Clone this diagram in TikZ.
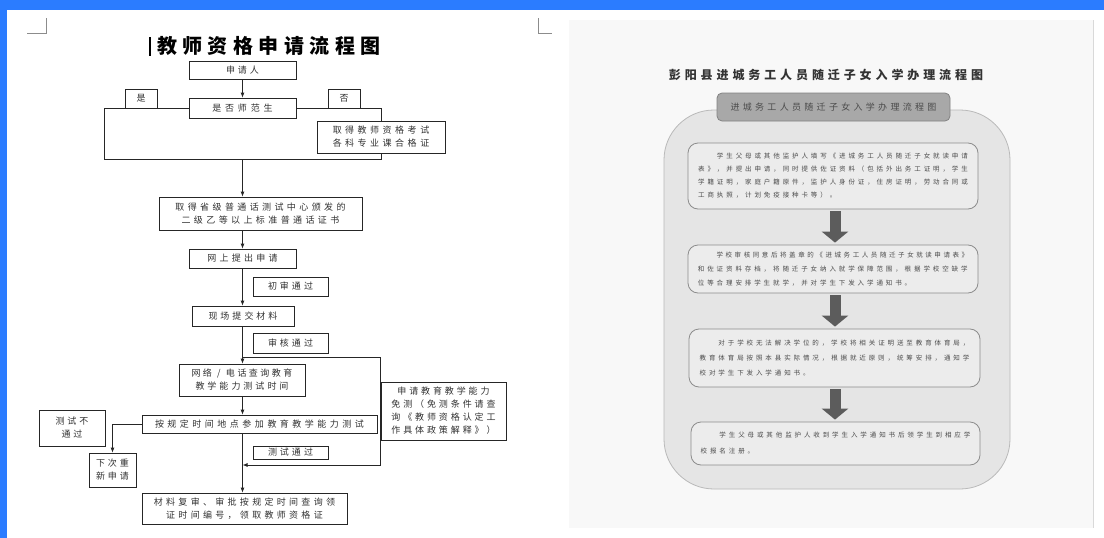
\documentclass[tikz,border=0pt]{standalone}
\usepackage{fontspec}
\setmainfont{Noto Sans CJK SC}
\usetikzlibrary{arrows.meta}
\definecolor{bluef}{RGB}{43,124,255}
\definecolor{scan}{RGB}{248,248,248}
\definecolor{cont}{RGB}{229,229,229}
\definecolor{contb}{RGB}{185,185,185}
\definecolor{rbfill}{RGB}{236,236,236}
\definecolor{rbdraw}{RGB}{140,140,140}
\definecolor{tabf}{RGB}{168,168,168}
\definecolor{tabd}{RGB}{130,130,130}
\definecolor{rtext}{RGB}{75,75,75}
\definecolor{arrg}{RGB}{92,92,92}
\definecolor{ltext}{RGB}{50,50,50}
\makeatletter
\def\chs@end{\chs@end}
\newcommand\chs[2]{\leavevmode\def\chs@w{#1pt}\chs@loop#2\chs@end}
\def\chs@loop#1{\ifx#1\chs@end\else\hbox to \chs@w{\hss#1\hss}\expandafter\chs@loop\fi}
\makeatother
\tikzset{
  lbox/.style 2 args={draw=black!85, line width=0.8pt, fill=white, inner sep=0pt,
    minimum width=#1, minimum height=#2, align=center, text=ltext,
    font=\fontsize{9}{13}\selectfont},
  arr/.style={draw=black!85, line width=0.8pt, -{Latex[length=5pt,width=4pt]}},
  rbox/.style 2 args={draw=rbdraw, line width=0.8pt, fill=rbfill, rounded corners=10pt,
    inner sep=0pt, minimum width=#1, minimum height=#2, align=left, text=rtext},
  bigarr/.style={draw=arrg, line width=11pt, -{Triangle[width=26pt,length=11pt]},
    shorten >=2pt, shorten <=2pt},
}
\begin{document}
\begin{tikzpicture}[x=1pt,y=-1pt]
\useasboundingbox (0,0) rectangle (1104,538);
\fill[white] (0,0) rectangle (1104,538);
\fill[bluef] (0,0) rectangle (1104,10);
\fill[bluef] (0,0) rectangle (7,538);
% corner marks
\draw[black!45, line width=0.6pt] (27,33) -- (46,33) -- (46,18);
\draw[black!45, line width=0.6pt] (538,18) -- (538,33) -- (552,33);
% ---------------- left flowchart
\draw[black, line width=1.2pt] (150,37) -- (150,56);
\node[font=\fontsize{20}{20}\selectfont\bfseries, inner sep=0pt] (ttl) at (269,46) {\chs{25.5}{教师资格申请流程图}};
\node[lbox={277}{51}] (br) at (242.5,133.5) {};
\node[lbox={107}{18}] (shen) at (242.5,70) {\chs{12}{申请人}};
\node[lbox={107}{20}] (shifou) at (242.5,108) {\chs{12.8}{是否师范生}};
\node[lbox={32}{19}] (shi) at (141,98.5) {是};
\node[lbox={32}{19}] (fou) at (344,98.5) {否};
\node[lbox={128}{32}] (kaoshi) at (381,137) {\chs{12.5}{取得教师资格考试}\\\chs{12.5}{各科专业课合格证}};
\node[lbox={203}{33}] (pth) at (260.5,213.5) {\chs{12.4}{取得省级普通话测试中心颁发的}\\\chs{12.4}{二级乙等以上标准普通话证书}};
\node[lbox={107}{19}] (wsq) at (242.5,258.5) {\chs{12.3}{网上提出申请}};
\node[lbox={75}{19}] (csh) at (290.5,286.5) {\chs{12}{初审通过}};
\node[lbox={102}{20}] (xc) at (243,316) {\chs{12}{现场提交材料}};
\node[lbox={75}{20}] (shh) at (290.5,343) {\chs{12}{审核通过}};
\node[lbox={126}{32}] (wl) at (242,380) {\chs{11.5}{网络/电话查询教育}\\\chs{12}{教学能力测试时间}};
\node[lbox={235}{18}] (ag) at (259.5,424) {\chs{12.5}{按规定时间地点参加教育教学能力测试}};
\node[lbox={125}{58}] (mc) at (443.5,411) {\chs{11.9}{申请教育教学能力}\\\chs{11.9}{免测（免测条件请查}\\\chs{11.9}{询《教师资格认定工}\\\chs{11.9}{作具体政策解释》）}};
\node[lbox={66}{36}] (btg) at (72,428) {\chs{12}{测试不}\\\chs{12}{通过}};
\node[lbox={47}{34}] (xcs) at (112.5,470) {\chs{12}{下次重}\\\chs{12}{新申请}};
\node[lbox={75}{13}] (cstg) at (290.5,452.5) {\chs{12}{测试通过}};
\node[lbox={205}{31}] (cl) at (244.5,508.5) {\chs{12.3}{材料复审、审批按规定时间查询领}\\\chs{12.3}{证时间编号，领取教师资格证}};
\coordinate (lt) at (242.5,357);
\coordinate (lb) at (242.5,465);
\draw[arr] (shen) -- (shifou);
\draw[arr] (br.south) -- (br.south |- pth.north);
\draw[arr] (br.south |- pth.south) -- (wsq.north);
\draw[arr] (wsq.south) -- (wsq.south |- xc.north);
\draw[arr] (wsq.south |- xc.south) -- (wsq.south |- wl.north);
\draw[arr] (wsq.south |- wl.south) -- (wsq.south |- ag.north);
\draw[arr] (wsq.south |- ag.south) -- (wsq.south |- cl.north);
\draw[arr] (lt) -- (lt -| mc.west) -- (lb -| mc.west) -- (lb);
\draw[arr] (ag.west) -| (xcs.north);
% ---------------- right scanned page
\fill[scan] (569,20) rectangle (1093,528);
\draw[black!15, line width=0.8pt] (1093,20) -- (1093,528);
\node[font=\fontsize{12}{12}\selectfont\bfseries, text=black!80, inner sep=0pt] (rt) at (826,75) {\chs{15.9}{彭阳县进城务工人员随迁子女入学办理流程图}};
\draw[draw=contb, fill=cont, line width=0.8pt, rounded corners=50pt] (664,110) rectangle (1010,489);
\node[draw=tabd, fill=tabf, line width=0.8pt, rounded corners=5pt, minimum width=233, minimum height=28, inner sep=0pt, text=rtext, font=\fontsize{9}{9}\selectfont] (tab) at (833.5,107) {\chs{12.3}{进城务工人员随迁子女入学办理流程图}};
\node[rbox={290}{66}, font=\fontsize{6.5}{13}\selectfont] (r1) at (833,176) {\hspace*{18.8pt}\chs{9.4}{学生父母或其他监护人填写《进城务工人员随迁子女就读申请}\\\chs{9.4}{表》，并提出申请，同时提供佐证资料（包括外出务工证明，学生}\\\chs{9.4}{学籍证明，家庭户籍原件，监护人身份证，住房证明，劳动合同或}\\\chs{9.4}{工商执照，计划免疫接种卡等）。}};
\node[rbox={290}{48}, font=\fontsize{6.5}{14}\selectfont] (r2) at (833,269) {\hspace*{18.8pt}\chs{9.08}{学校审核同意后将盖章的《进城务工人员随迁子女就读申请表》}\\\chs{9.4}{和佐证资料存档，将随迁子女纳入就学保障范围，根据学校空缺学}\\\chs{9.4}{位等合理安排学生就学，并对学生下发入学通知书。}};
\node[rbox={291}{58}, font=\fontsize{6.5}{15}\selectfont] (r3) at (834.5,358) {\hspace*{18.8pt}\chs{9.4}{对于学校无法解决学位的，学校将相关证明送至教育体育局，}\\\chs{9.4}{教育体育局按照本县实际情况，根据就近原则，统筹安排，通知学}\\\chs{9.4}{校对学生下发入学通知书。}};
\node[rbox={289}{43}, font=\fontsize{6.5}{16}\selectfont] (r4) at (835.5,443.5) {\hspace*{18.8pt}\chs{9.4}{学生父母或其他监护人收到学生入学通知书后领学生到相应学}\\\chs{9.4}{校报名注册。}};
\coordinate (ax) at (835,0);
\draw[bigarr] (r1.south -| ax) -- (r2.north -| ax);
\draw[bigarr] (r2.south -| ax) -- (r3.north -| ax);
\draw[bigarr] (r3.south -| ax) -- (r4.north -| ax);
\end{tikzpicture}
\end{document}
